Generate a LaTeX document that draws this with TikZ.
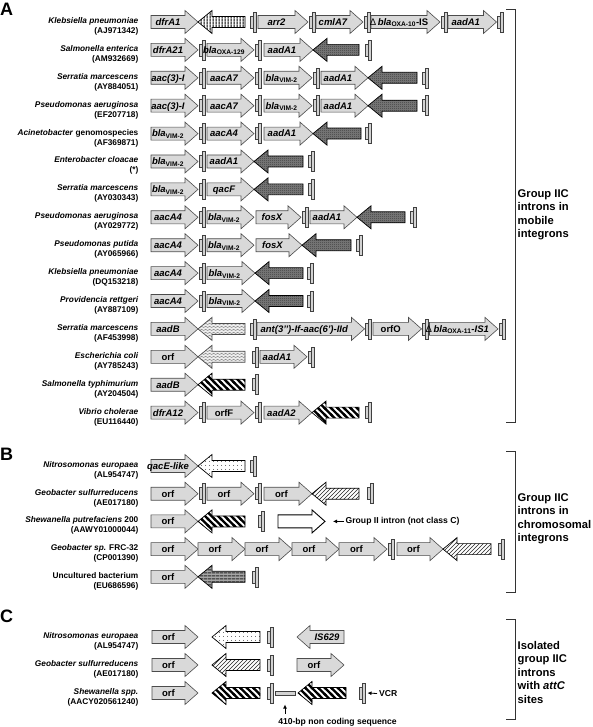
\documentclass[tikz,border=0pt]{standalone}
\usepackage{fontspec}
\setmainfont{Liberation Sans}
\usetikzlibrary{patterns,arrows.meta}

\pgfdeclarepatternformonly{vl}{\pgfqpoint{0pt}{0pt}}{\pgfqpoint{2.6pt}{2.6pt}}{\pgfqpoint{2.6pt}{2.6pt}}{%
  \pgfsetlinewidth{1pt}\pgfpathmoveto{\pgfqpoint{1.3pt}{-0.2pt}}\pgfpathlineto{\pgfqpoint{1.3pt}{2.8pt}}\pgfusepath{stroke}}
\pgfdeclarepatternformonly{zigzag}{\pgfqpoint{0pt}{0pt}}{\pgfqpoint{4pt}{3pt}}{\pgfqpoint{4pt}{3pt}}{%
  \pgfsetlinewidth{0.6pt}\pgfpathmoveto{\pgfqpoint{-0.5pt}{0.5pt}}\pgfpathlineto{\pgfqpoint{2pt}{2.3pt}}\pgfpathlineto{\pgfqpoint{4.5pt}{0.5pt}}\pgfusepath{stroke}}
\pgfdeclarepatternformonly{bstripes}{\pgfqpoint{-2pt}{-2pt}}{\pgfqpoint{8.5pt}{8.5pt}}{\pgfqpoint{6.5pt}{6.5pt}}{%
  \pgfsetlinewidth{2.2pt}\pgfpathmoveto{\pgfqpoint{-1pt}{7.5pt}}\pgfpathlineto{\pgfqpoint{7.5pt}{-1pt}}\pgfusepath{stroke}}
\pgfdeclarepatternformonly{sdots}{\pgfqpoint{0pt}{0pt}}{\pgfqpoint{3.5pt}{3.5pt}}{\pgfqpoint{3.5pt}{3.5pt}}{%
  \pgfpathcircle{\pgfqpoint{1.75pt}{1.75pt}}{0.5pt}\pgfusepath{fill}}
\pgfdeclarepatternformonly{hne}{\pgfqpoint{-1pt}{-1pt}}{\pgfqpoint{5pt}{5pt}}{\pgfqpoint{4pt}{4pt}}{%
  \pgfsetlinewidth{0.6pt}\pgfpathmoveto{\pgfqpoint{0pt}{0pt}}\pgfpathlineto{\pgfqpoint{4.1pt}{4.1pt}}\pgfusepath{stroke}}
\pgfdeclarepatternformonly{hstripes}{\pgfqpoint{0pt}{0pt}}{\pgfqpoint{4pt}{3pt}}{\pgfqpoint{4pt}{3pt}}{%
  \pgfsetlinewidth{1.1pt}\pgfpathmoveto{\pgfqpoint{-0.2pt}{1.5pt}}\pgfpathlineto{\pgfqpoint{4.2pt}{1.5pt}}\pgfusepath{stroke}}
\pgfdeclarepatternformonly{ddots}{\pgfqpoint{0pt}{0pt}}{\pgfqpoint{2pt}{2pt}}{\pgfqpoint{2pt}{2pt}}{%
  \pgfpathrectangle{\pgfqpoint{0pt}{0pt}}{\pgfqpoint{1pt}{1pt}}\pgfusepath{fill}}

\tikzset{
  gene/.style={draw=black!70, fill=gray!30, line width=0.6pt, line join=miter},
  wgene/.style={draw=black, fill=white, line width=0.9pt, line join=miter},
  ibase/.style={draw=black, line width=0.7pt, line join=miter},
  ivert/.style={ibase, preaction={fill=white}, pattern=vl, pattern color=black},
  idark/.style={ibase, preaction={fill=black!55}, pattern=ddots, pattern color=black!85},
  iwave/.style={ibase, draw=black!70, preaction={fill=gray!15}, pattern=zigzag, pattern color=gray!95},
  istripe/.style={ibase, preaction={fill=white}, pattern=bstripes, pattern color=black},
  idots/.style={ibase, preaction={fill=white}, pattern=sdots, pattern color=black!75},
  ihatch/.style={ibase, preaction={fill=white}, pattern=hne, pattern color=black!85},
  ihstr/.style={ibase, preaction={fill=gray!70}, pattern=hstripes, pattern color=black!85},
  attst/.style={draw=black!75, fill=gray!35, line width=0.5pt},
  gtxt/.style={anchor=base, inner sep=0pt, font=\fontsize{9.5}{10}\selectfont\bfseries\itshape},
  otxt/.style={anchor=base east, inner sep=0pt, font=\fontsize{8.3}{9}\selectfont\bfseries},
  btxt/.style={anchor=west, align=left, inner sep=0pt, font=\fontsize{11.2}{13.5}\selectfont\bfseries},
  plet/.style={anchor=base west, inner sep=0pt, font=\fontsize{18}{18}\selectfont\bfseries},
  ann/.style={inner sep=0pt, font=\fontsize{8.6}{9}\selectfont\bfseries},
  annarr/.style={-{Latex[length=4pt,width=4pt]}, line width=0.8pt},
  brk/.style={draw=black!80, line width=0.8pt},
}

\newcounter{nn}
\newcommand\fw[5][gene]{%
  \path[#1] (#2,#4-6.5) -- (#3-13,#4-6.5) -- (#3-13,#4-11.5) -- (#3,#4) -- (#3-13,#4+11.5) -- (#3-13,#4+6.5) -- (#2,#4+6.5) -- cycle;
  \stepcounter{nn}%
  \node[gtxt] (g\thenn) at ({(#2+#3-13)/2},#4+3.4) {#5};}
\newcommand\rv[4][idark]{%
  \path[#1] (#3,#4-5.5) -- (#2+14,#4-5.5) -- (#2+14,#4-11.5) -- (#2,#4) -- (#2+14,#4+11.5) -- (#2+14,#4+5.5) -- (#3,#4+5.5) -- cycle;}
\newcommand\rvl[5][gene]{%
  \path[#1] (#3,#4-6.5) -- (#2+13,#4-6.5) -- (#2+13,#4-11.5) -- (#2,#4) -- (#2+13,#4+11.5) -- (#2+13,#4+6.5) -- (#3,#4+6.5) -- cycle;
  \stepcounter{nn}%
  \node[gtxt] (g\thenn) at ({(#2+13+#3)/2},#4+3.4) {#5};}
\newcommand\att[2]{%
  \path[attst] (#1,#2-6) rectangle (#1+2.8,#2+6);
  \path[attst] (#1+2.8,#2-10) rectangle (#1+5.8,#2+10);}
\newcommand\orgl[3]{%
  \stepcounter{nn}%
  \node[otxt] (s\thenn) at (138.5,#1+1.5) {#2};
  \node[otxt] (a\thenn) at (138.5,#1+11.5) {#3};}
\newcommand\bla[1]{bla\textsubscript{\upshape #1}}
\newcommand\dl{{\mdseries\upshape Δ}}
\newcommand\orf[1]{{\upshape #1}}

\begin{document}
\begin{tikzpicture}[x=1pt,y=-1pt]
\useasboundingbox (0,0) rectangle (592,727);

% panel letters
\node[plet] (pA) at (0,15.5) {A};
\node[plet] (pB) at (0,460) {B};
\node[plet] (pC) at (0,622.5) {C};

% ---------------- Panel A ----------------
% row 1
\orgl{22}{\textit{Klebsiella pneumoniae}}{(AJ971342)}
\fw{151}{198}{22}{dfrA1}
\rv[ivert]{198}{245}{22}
\att{250}{22}
\fw{258}{308}{22}{arr2}
\att{309.5}{22}
\fw{316}{363}{22}{cmlA7}
\att{364}{22}
\fw{371}{440}{22}{\dl\,\bla{OXA-10}{\upshape -IS}}
\att{441}{22}
\fw{448}{496.5}{22}{aadA1}
\att{497.5}{22}
% row 2
\orgl{49.9}{\textit{Salmonella enterica}}{(AM932669)}
\fw{151}{198}{49.9}{dfrA21}
\att{199}{49.9}
\fw{207}{254}{49.9}{\bla{OXA-129}}
\att{255}{49.9}
\fw{264}{313}{49.9}{aadA1}
\rv{313}{359}{49.9}
\att{365}{49.9}
% row 3
\orgl{77.8}{\textit{Serratia marcescens}}{(AY884051)}
\fw{151}{198}{77.8}{aac(3)-I}
\att{199}{77.8}
\fw{207}{254}{77.8}{aacA7}
\att{255}{77.8}
\fw{264}{312}{77.8}{\bla{VIM-2}}
\att{313}{77.8}
\fw{321}{368}{77.8}{aadA1}
\rv{368}{417}{77.8}
\att{422}{77.8}
% row 4
\orgl{105.7}{\textit{Pseudomonas aeruginosa}}{(EF207718)}
\fw{151}{198}{105.7}{aac(3)-I}
\att{199}{105.7}
\fw{207}{254}{105.7}{aacA7}
\att{255}{105.7}
\fw{264}{312}{105.7}{\bla{VIM-2}}
\att{313}{105.7}
\fw{321}{368}{105.7}{aadA1}
\rv{368}{417}{105.7}
\att{422}{105.7}
% row 5
\orgl{133.6}{\textit{Acinetobacter} genomospecies}{(AF369871)}
\fw{151}{198}{133.6}{\bla{VIM-2}}
\att{199}{133.6}
\fw{207}{254}{133.6}{aacA4}
\att{255}{133.6}
\fw{264}{313}{133.6}{aadA1}
\rv{313}{361}{133.6}
\att{365}{133.6}
% row 6
\orgl{161.5}{\textit{Enterobacter cloacae}}{(*)}
\fw{151}{198}{161.5}{\bla{VIM-2}}
\att{199}{161.5}
\fw{207}{254}{161.5}{aadA1}
\rv{254}{303}{161.5}
\att{308}{161.5}
% row 7
\orgl{189.4}{\textit{Serratia marcescens}}{(AY030343)}
\fw{151}{198}{189.4}{\bla{VIM-2}}
\att{199}{189.4}
\fw{207}{254}{189.4}{qacF}
\rv{254}{303}{189.4}
\att{308}{189.4}
% row 8
\orgl{217.3}{\textit{Pseudomonas aeruginosa}}{(AY029772)}
\fw{151}{198}{217.3}{aacA4}
\att{199}{217.3}
\fw{207}{254}{217.3}{\bla{VIM-2}}
\fw{256}{301}{217.3}{fosX}
\att{302}{217.3}
\fw{310}{357}{217.3}{aadA1}
\rv{357}{405}{217.3}
\att{410}{217.3}
% row 9
\orgl{245.2}{\textit{Pseudomonas putida}}{(AY065966)}
\fw{151}{198}{245.2}{aacA4}
\att{199}{245.2}
\fw{207}{254}{245.2}{\bla{VIM-2}}
\fw{256}{302}{245.2}{fosX}
\rv{302}{351}{245.2}
\att{356}{245.2}
% row 10
\orgl{273.1}{\textit{Klebsiella pneumoniae}}{(DQ153218)}
\fw{151}{198}{273.1}{aacA4}
\att{199}{273.1}
\fw{207}{255}{273.1}{\bla{VIM-2}}
\rv{255}{303}{273.1}
\att{307}{273.1}
% row 11
\orgl{301}{\textit{Providencia rettgeri}}{(AY887109)}
\fw{151}{198}{301}{aacA4}
\att{199}{301}
\fw{207}{255}{301}{\bla{VIM-2}}
\rv{255}{303}{301}
\att{307}{301}
% row 12
\orgl{328.9}{\textit{Serratia marcescens}}{(AF453998)}
\fw{151}{198}{328.9}{aadB}
\rv[iwave]{198}{245}{328.9}
\att{250}{328.9}
\fw{257}{364.5}{328.9}{ant(3’’)-If-aac(6’)-IId}
\att{365.5}{328.9}
\fw{373}{421.5}{328.9}{\orf{orfO}}
\att{422.5}{328.9}
\fw{429.5}{498}{328.9}{\dl\,\bla{OXA-11}-IS1}
\att{499}{328.9}
% row 13
\orgl{356.8}{\textit{Escherichia coli}}{(AY785243)}
\fw{151}{198}{356.8}{\orf{orf}}
\rv[iwave]{198}{245}{356.8}
\att{252}{356.8}
\fw{260}{307}{356.8}{aadA1}
\att{308}{356.8}
% row 14
\orgl{384.7}{\textit{Salmonella typhimurium}}{(AY204504)}
\fw{151}{198}{384.7}{aadB}
\rv[istripe]{198}{245}{384.7}
\att{252}{384.7}
% row 15
\orgl{412.6}{\textit{Vibrio cholerae}}{(EU116440)}
\fw{151}{198}{412.6}{dfrA12}
\att{199}{412.6}
\fw{207}{254}{412.6}{\orf{orfF}}
\att{255}{412.6}
\fw{264}{312}{412.6}{aadA2}
\rv[istripe]{312}{359}{412.6}
\att{365}{412.6}

% ---------------- Panel B ----------------
\orgl{466}{\textit{Nitrosomonas europaea}}{(AL954747)}
\fw{151}{198}{466}{qacE-like}
\rv[idots]{198}{245}{466}
\att{250}{466}

\orgl{493.7}{\textit{Geobacter sulfurreducens}}{(AE017180)}
\fw{151}{198}{493.7}{\orf{orf}}
\att{199}{493.7}
\fw{207}{254}{493.7}{\orf{orf}}
\att{255}{493.7}
\fw{264}{312}{493.7}{\orf{orf}}
\rv[ihatch]{312}{359}{493.7}
\att{367}{493.7}

\orgl{521.4}{\textit{Shewanella putrefaciens} 200}{(AAWY01000044)}
\fw{151}{198}{521.4}{\orf{orf}}
\rv[istripe]{198}{245}{521.4}
\att{258}{521.4}
\fw[wgene]{278}{325}{521.4}{}
\coordinate (giitip) at (333,521.4);
\node[ann, anchor=west, inner xsep=1.5pt] (giit) at (344,521.4) {Group II intron (not class C)};
\draw[annarr] (giit.west) -- (giitip);

\orgl{549.1}{\textit{Geobacter sp.} FRC-32}{(CP001390)}
\fw{151}{198}{549.1}{\orf{orf}}
\fw{198}{245}{549.1}{\orf{orf}}
\fw{245}{292}{549.1}{\orf{orf}}
\fw{292}{339}{549.1}{\orf{orf}}
\fw{339}{387}{549.1}{\orf{orf}}
\att{388}{549.1}
\fw{397}{443}{549.1}{\orf{orf}}
\rv[ihatch]{443}{491}{549.1}
\att{498}{549.1}

\orgl{576.8}{Uncultured bacterium}{(EU686596)}
\fw{151}{198}{576.8}{\orf{orf}}
\rv[ihstr]{198}{245}{576.8}
\att{252}{576.8}

% ---------------- Panel C ----------------
\orgl{637}{\textit{Nitrosomonas europaea}}{(AL954747)}
\fw{152}{198}{637}{\orf{orf}}
\rv[idots]{212}{260}{637}
\att{267}{637}
\rvl{297}{344}{637}{IS629}

\orgl{665}{\textit{Geobacter sulfurreducens}}{(AE017180)}
\fw{152}{198}{665}{\orf{orf}}
\rv[ihatch]{212}{260}{665}
\att{267}{665}
\fw{297}{344}{665}{\orf{orf}}

\orgl{693}{\textit{Shewanella spp.}}{(AACY020561240)}
\fw{152}{198}{693}{\orf{orf}}
\rv[istripe]{212}{260}{693}
\att{267}{693}
\path[attst] (275.5,690.8) rectangle (295,695.4);
\rv[istripe]{298}{346}{693}
\att{359}{693}
\coordinate (vcrtip) at (367.5,693);
\node[ann, anchor=west, inner xsep=2pt] (vcr) at (377,693.5) {VCR};
\draw[annarr] (vcr.west) -- (vcrtip);
\coordinate (ncstip) at (285,704.5);
\coordinate (ncsbase) at (285,713.5);
\draw[annarr] (ncsbase) -- (ncstip);
\node[ann] (ncs) at (337.5,722.5) {410-bp non coding sequence};

% ---------------- brackets ----------------
\draw[brk] (506,9.3) -- (515,9.3) -- (515,422.7) -- (506,422.7);
\node[btxt] (bA) at (517.5,214.7) {Group IIC\\introns in\\mobile\\integrons};
\draw[brk] (506,451.7) -- (515,451.7) -- (515,592.3) -- (506,592.3);
\node[btxt] (bB) at (517.5,518.7) {Group IIC\\introns in\\chromosomal\\integrons};
\draw[brk] (506,619) -- (515,619) -- (515,719) -- (506,719);
\node[btxt] (bC) at (517.5,672) {Isolated\\group IIC\\introns\\with \textit{attC}\\sites};
\end{tikzpicture}
\end{document}
